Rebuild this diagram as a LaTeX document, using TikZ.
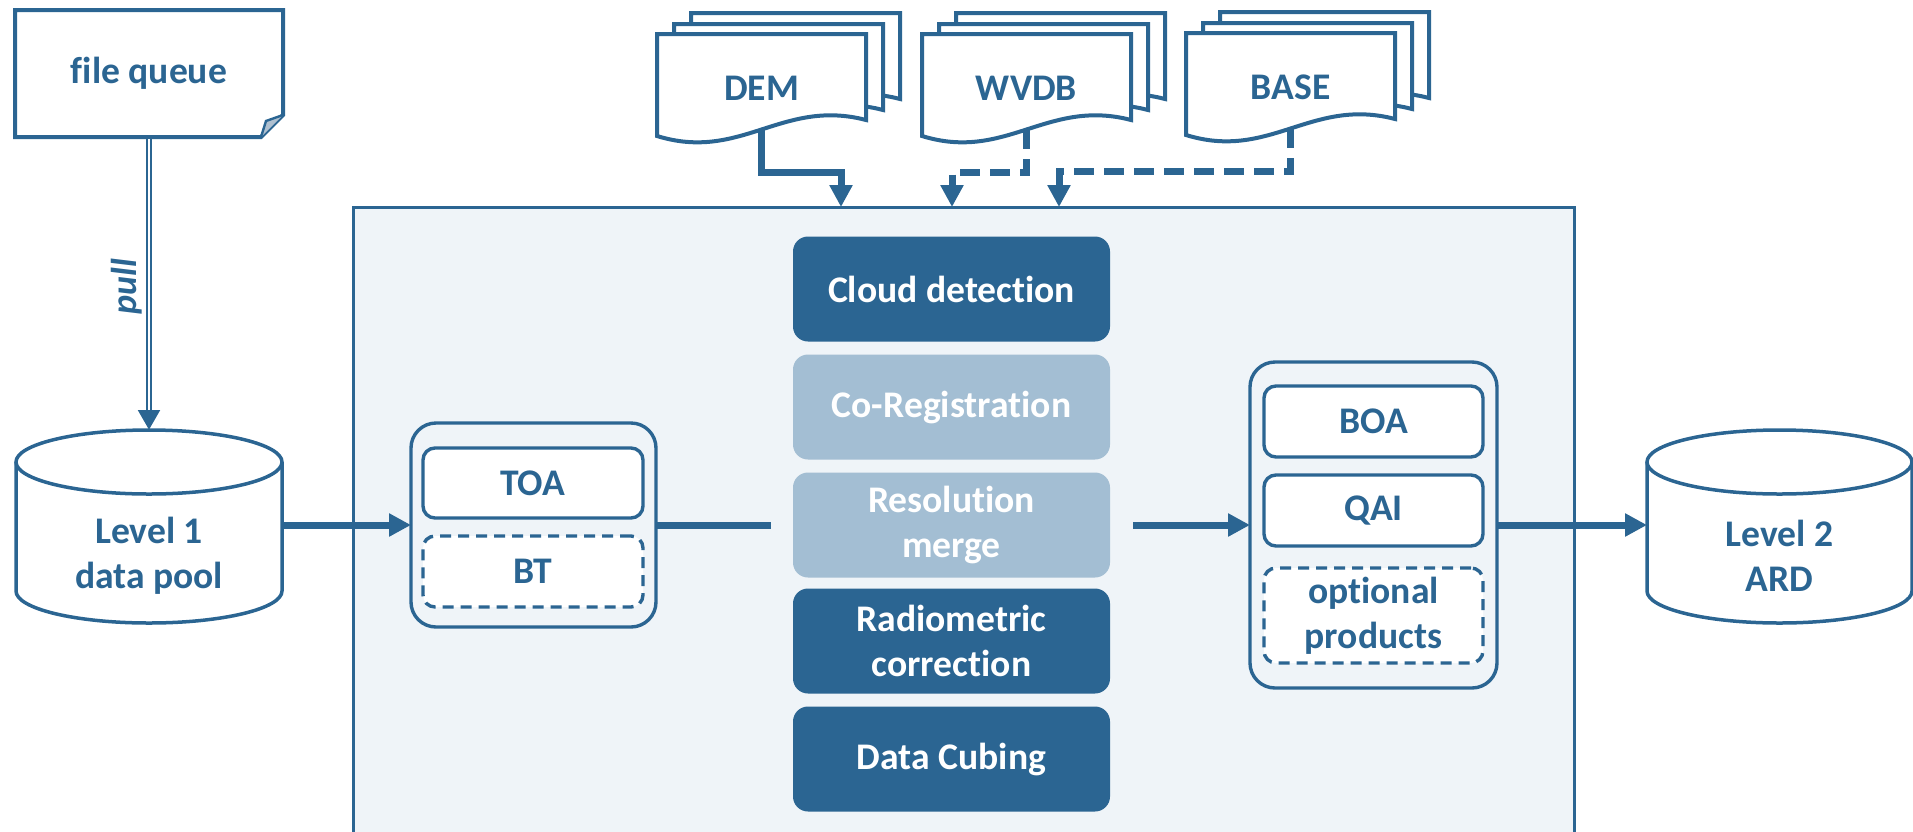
\documentclass[tikz,border=0pt]{standalone}
\usepackage{fontspec}
\setmainfont{Carlito}[Ligatures=NoCommon]
\usetikzlibrary{arrows.meta}

\definecolor{inkblue}{HTML}{2B6592}
\definecolor{paleblue}{HTML}{A3BED3}
\definecolor{panelbg}{HTML}{EFF4F8}
\definecolor{foldgrey}{HTML}{AFC0D0}

\tikzset{
  lbl/.style={font={\fontsize{18.8}{22.5}\selectfont\bfseries}, text=inkblue, align=center, outer sep=0pt},
  queue/.style={lbl, minimum width=134pt, minimum height=63.5pt},
  pulltext/.style={font={\fontsize{18}{20}\selectfont\bfseries\itshape}, text=inkblue, rotate=90, inner sep=2pt},
  sheet/.style={draw=inkblue, fill=white, line width=2pt},
  store/.style={draw=inkblue, line width=1.75pt},
  storetext/.style={lbl, minimum width=133pt},
  panel/.style={draw=inkblue, fill=panelbg, line width=1.5pt},
  stage/.style={lbl, text=white, fill=inkblue, rounded corners=7.5pt, minimum width=158.5pt, minimum height=52.5pt, inner sep=0pt},
  stagelight/.style={stage, fill=paleblue},
  bundle/.style={draw=inkblue, line width=1.7pt, rounded corners=12.5pt, outer sep=0pt},
  layer/.style={lbl, draw=inkblue, fill=white, line width=1.7pt, rounded corners=6pt, minimum width=110pt, inner sep=0pt},
  optlayer/.style={layer, dash pattern=on 5.5pt off 3.5pt},
  flow/.style={draw=inkblue, line width=3.5pt, -{Triangle[length=11pt,width=11pt]}},
  flowdash/.style={flow, dash pattern=on 10pt off 5pt},
  pull/.style={draw=inkblue, line width=2.8pt, -{Triangle[length=10pt,width=10.5pt]},
    postaction={draw=white, line width=0.9pt, shorten >=10pt, shorten <=1.2pt, -}},
}

% one sheet of a document stack, top left corner at (#1,#2)
\newcommand{\docsheet}[2]{%
  \begin{scope}[shift={(#1,#2)}]
    \filldraw[sheet] (0,0) -- (209,0) -- (209,86)
      .. controls (125,64) and (84,128) .. (0,102) -- cycle;
  \end{scope}}
\newcommand{\docstack}[2]{%
  \docsheet{#1+34}{#2-21}\docsheet{#1+17}{#2-10}\docsheet{#1}{#2}}

% database drum, centre x and half width
\newcommand{\drum}[2]{%
  \draw[store] (#1-#2,462) -- (#1-#2,591)
    arc[start angle=180, end angle=0, x radius=#2, y radius=32] -- (#1+#2,462);
  \draw[store] (#1,462) ellipse [x radius=#2, y radius=32];}

\begin{document}
\begin{tikzpicture}[x=0.5pt, y=-0.5pt]
  \useasboundingbox (0,0) rectangle (1913,831);

  % processing panel, open at the bottom
  \filldraw[panel] (353,850) -- (353,207) -- (1574,207) -- (1574,850);

  % auxiliary data
  \docstack{657}{34}
  \docstack{922}{34}
  \docstack{1186}{33}
  \node[lbl] (dem) at (761.5,88) {DEM};
  \node[lbl] (wvdb) at (1026.5,88) {WVDB};
  \node[lbl] (base) at (1290.5,87) {BASE};
  \coordinate (dem-foot) at (761.5,129);
  \coordinate (wvdb-foot) at (1026.5,129);
  \coordinate (base-foot) at (1290.5,128);
  \coordinate (dem-in) at (841,207);
  \coordinate (wvdb-in) at (952,207);
  \coordinate (base-in) at (1059,207);

  % file queue
  \draw[sheet, fill=none] (15,10) -- (283,10) -- (283,115) -- (261,137) -- (15,137) -- cycle;
  \filldraw[sheet, fill=foldgrey, line width=1.2pt] (261,137) -- (266,121) -- (283,115);
  \node[queue] (fq) at (149,73.5) {file queue};

  % level 1 and level 2 stores
  \drum{149}{133}
  \drum{1779.5}{132.5}
  \node[storetext] (lvl1) at (149,556) {Level 1\\data pool};
  \node[storetext, minimum width=132.5pt] (lvl2) at (1779.5,556) {Level 2\\ARD};
  \coordinate (lvl1-top) at (149,430);

  % input bands
  \node[bundle, minimum width=122.5pt, minimum height=102pt] (ingrp) at (533.5,525) {};
  \node[layer, minimum height=35pt] (toa) at (533,483) {TOA};
  \node[optlayer, minimum height=35.5pt] (bt) at (533,571.5) {BT};

  % processing steps
  \node[stage] (cloud) at (951.5,289) {Cloud detection};
  \node[stagelight] (coreg) at (951.5,407) {Co-Registration};
  \node[stagelight] (merge) at (951.5,525) {Resolution\\merge};
  \node[stage] (radio) at (951.5,641) {Radiometric\\correction};
  \node[stage] (cube) at (951.5,759) {Data Cubing};

  % output products
  \node[bundle, minimum width=123.5pt, minimum height=163pt] (outgrp) at (1373.5,525) {};
  \node[layer, minimum width=109.5pt, minimum height=35.5pt] (boa) at (1373.5,421.5) {BOA};
  \node[layer, minimum width=109.5pt, minimum height=35.5pt] (qai) at (1373.5,510.5) {QAI};
  \node[optlayer, minimum width=109.5pt, minimum height=47.5pt] (opt) at (1373.5,615.5) {optional\\products};

  % connections
  \draw[pull] (fq.south) -- (lvl1-top) node[pos=0.51, above, pulltext] {pull};
  \draw[flow] (dem-foot) -- ++(0,43) -| (dem-in);
  \draw[flowdash] (wvdb-foot) -- ++(0,43) -| (wvdb-in);
  \draw[flowdash] (base-foot) -- ++(0,43) -| (base-in);
  \draw[flow] (lvl1.east |- ingrp.west) -- (ingrp.west);
  \draw[flow, -] (ingrp.east) -- ([xshift=-11pt]merge.west);
  \draw[flow] ([xshift=11.5pt]merge.east) -- (outgrp.west);
  \draw[flow] (outgrp.east) -- (outgrp.east -| lvl2.west);
\end{tikzpicture}
\end{document}
